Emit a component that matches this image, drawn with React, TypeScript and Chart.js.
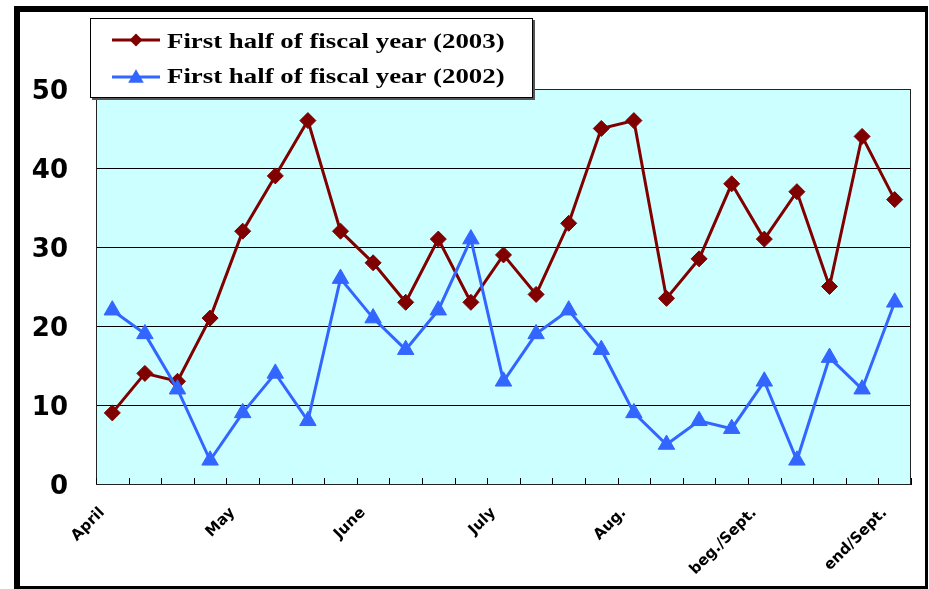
import { useEffect, useRef } from 'react';
import { Chart, registerables } from 'chart.js';

Chart.register(...registerables);

// Half-monthly periods; only every fourth slot carries a month name.
const categories = [
  'April', '', '', '',
  'May', '', '', '',
  'June', '', '', '',
  'July', '', '', '',
  'Aug.', '', '', '',
  'beg./Sept.', '', '', '',
  'end/Sept.',
];

const fiscal2003 = [9, 14, 13, 21, 32, 39, 46, 32, 28, 23, 31, 23, 29, 24, 33, 45, 46, 23.5, 28.5, 38, 31, 37, 25, 44, 36];
const fiscal2002 = [22, 19, 12, 3, 9, 14, 8, 26, 21, 17, 22, 31, 13, 19, 22, 17, 9, 5, 8, 7, 13, 3, 16, 12, 23];

const yTicks = [0, 10, 20, 30, 40, 50];
const seriesNames = ['First half of fiscal year (2003)', 'First half of fiscal year (2002)'];

const DARK_RED = '#800000';
const BLUE = '#3366FF';
const PLOT_FILL = '#CCFFFF';

// Cyan plot background, a thin frame, and inward tick marks between categories.
const plotFrame = {
  id: 'plotFrame',
  beforeDraw(chart: any) {
    const { ctx, chartArea: a } = chart;
    ctx.save();
    ctx.fillStyle = PLOT_FILL;
    ctx.fillRect(a.left, a.top, a.right - a.left, a.bottom - a.top);
    ctx.restore();
  },
  beforeDatasetsDraw(chart: any) {
    const { ctx, chartArea: a } = chart;
    const xs = chart.scales.x;
    ctx.save();
    ctx.strokeStyle = '#222';
    ctx.lineWidth = 1;
    ctx.strokeRect(Math.round(a.left) + 0.5, Math.round(a.top) + 0.5, Math.round(a.right - a.left) - 1, Math.round(a.bottom - a.top));
    ctx.strokeStyle = '#000';
    ctx.beginPath();
    for (let i = 0; i <= categories.length; i++) {
      const px = Math.round(xs.getPixelForValue(i - 0.5)) + 0.5;
      ctx.moveTo(px, a.bottom);
      ctx.lineTo(px, a.bottom - 6);
    }
    ctx.stroke();
    ctx.restore();
  },
};

function drawDiamond(ctx: CanvasRenderingContext2D, x: number, y: number, r: number) {
  ctx.beginPath();
  ctx.moveTo(x - r, y);
  ctx.lineTo(x, y - r);
  ctx.lineTo(x + r, y);
  ctx.lineTo(x, y + r);
  ctx.closePath();
  ctx.fill();
}

function drawTriangle(ctx: CanvasRenderingContext2D, x: number, y: number, r: number) {
  const h = r * Math.sqrt(3) / 2;
  ctx.beginPath();
  ctx.moveTo(x, y - r * 0.75);
  ctx.lineTo(x + h, y + r * 0.75);
  ctx.lineTo(x - h, y + r * 0.75);
  ctx.closePath();
  ctx.fill();
}

// Boxed legend with a drop shadow, overlapping the top of the plot.
const boxLegend = {
  id: 'boxLegend',
  afterDraw(chart: any) {
    const ctx: CanvasRenderingContext2D = chart.ctx;
    const bx = 90, by = 18, bw = 443, bh = 80;
    ctx.save();
    ctx.fillStyle = '#555';
    ctx.fillRect(bx + 2, by + 2, bw, bh);
    ctx.fillStyle = '#fff';
    ctx.fillRect(bx, by, bw, bh);
    ctx.strokeStyle = '#000';
    ctx.lineWidth = 1;
    ctx.strokeRect(bx + 0.5, by + 0.5, bw - 1, bh - 1);

    const rows = [
      { lineY: 40, textY: 48, marker: 'diamond' },
      { lineY: 77, textY: 83, marker: 'triangle' },
    ];
    chart.data.datasets.forEach((ds: any, i: number) => {
      const row = rows[i];
      const color = ds.borderColor as string;
      ctx.strokeStyle = color;
      ctx.fillStyle = color;
      ctx.lineWidth = 3;
      ctx.beginPath();
      ctx.moveTo(112, row.lineY);
      ctx.lineTo(160, row.lineY);
      ctx.stroke();
      if (row.marker === 'diamond') drawDiamond(ctx, 136, row.lineY, 6.5);
      else drawTriangle(ctx, 136, row.lineY - 1, 9);

      ctx.save();
      ctx.fillStyle = '#000';
      ctx.font = 'bold 22px "Liberation Serif", "Times New Roman", serif';
      ctx.textBaseline = 'alphabetic';
      ctx.textAlign = 'left';
      ctx.translate(167, row.textY);
      ctx.scale(1.22, 1);
      ctx.fillText(ds.label, 0, 0);
      ctx.restore();
    });
    ctx.restore();
  },
};

export default function App() {
  const canvasRef = useRef<HTMLCanvasElement | null>(null);

  useEffect(() => {
    const canvas = canvasRef.current;
    if (!canvas) return;
    const chart = new Chart(canvas, {
      type: 'line',
      data: {
        labels: categories,
        datasets: [
          {
            label: seriesNames[0],
            data: fiscal2003,
            borderColor: DARK_RED,
            backgroundColor: DARK_RED,
            borderWidth: 3,
            tension: 0,
            pointStyle: 'rectRot',
            pointRadius: 8,
            pointBorderWidth: 1,
            pointBackgroundColor: DARK_RED,
            pointBorderColor: DARK_RED,
            order: 2,
            clip: false,
          },
          {
            label: seriesNames[1],
            data: fiscal2002,
            borderColor: BLUE,
            backgroundColor: BLUE,
            borderWidth: 3,
            tension: 0,
            pointStyle: 'triangle',
            pointRadius: 9.5,
            pointBorderWidth: 1,
            pointBackgroundColor: BLUE,
            pointBorderColor: BLUE,
            order: 1,
            clip: false,
          },
        ],
      },
      options: {
        animation: false,
        responsive: false,
        maintainAspectRatio: false,
        devicePixelRatio: 1,
        layout: { padding: { left: 0, top: 89, right: 18, bottom: 0 } },
        plugins: {
          legend: { display: false },
          tooltip: { enabled: false },
          title: { display: false },
        },
        scales: {
          x: {
            offset: true,
            grid: { display: false, drawTicks: false },
            border: { display: true, color: '#000', width: 1 },
            ticks: {
              autoSkip: false,
              maxRotation: 45,
              minRotation: 45,
              padding: 20,
              labelOffset: -10,
              color: '#000',
              font: { family: '"DejaVu Sans", sans-serif', weight: 'bold', size: 15 },
            },
            afterFit: (scale: any) => {
              scale.height = 105;
            },
          },
          y: {
            min: 0,
            max: 50,
            afterBuildTicks: (scale: any) => {
              scale.ticks = yTicks.map((v) => ({ value: v }));
            },
            ticks: {
              padding: 28,
              labelOffset: 3,
              color: '#000',
              font: { family: '"DejaVu Sans", sans-serif', weight: 'bold', size: 26 },
            },
            grid: { color: '#000', lineWidth: 1, drawTicks: false },
            border: { display: true, color: '#000', width: 1 },
            afterFit: (scale: any) => {
              scale.width = 96;
            },
          },
        },
      } as any,
      plugins: [plotFrame, boxLegend],
    });
    return () => chart.destroy();
  }, []);

  return (
    <div style={{ position: 'absolute', left: 0, top: 0, width: 929, height: 589, background: '#fff' }}>
      <canvas ref={canvasRef} width={929} height={589} style={{ width: 929, height: 589, display: 'block' }} />
      <div
        style={{
          position: 'absolute',
          left: 14,
          top: 6,
          width: 914,
          height: 583,
          boxSizing: 'border-box',
          borderStyle: 'solid',
          borderColor: '#000',
          borderWidth: '6px 3px 3px 6px',
          pointerEvents: 'none',
        }}
      />
    </div>
  );
}
